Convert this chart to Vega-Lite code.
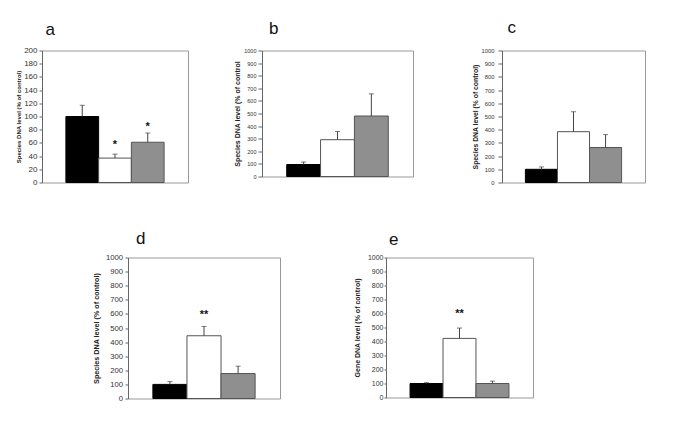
{
  "$schema": "https://vega.github.io/schema/vega-lite/v6.json",
  "background": "white",
  "padding": {"left": 15, "top": 17.5, "right": 5, "bottom": 5},
  "config": {
    "view": {"stroke": "#999999"},
    "axis": {"grid": false, "labelOverlap": false, "tickCount": 30, "format": "d", "labelFont": "Liberation Sans", "titleFont": "Liberation Sans", "domainColor": "#666666", "tickColor": "#666666", "labelColor": "#333333", "titleColor": "#222222", "titleFontWeight": "bold"},
    "title": {"font": "Liberation Sans", "fontWeight": "normal", "fontSize": 17, "anchor": "start", "color": "#111111", "frame": "group"}
  },
  "data": {"values": [
    {"panel": "a", "group": "control", "value": 100, "upper": 117, "star": null, "starY": null},
    {"panel": "a", "group": "treat1", "value": 37, "upper": 43, "star": "*", "starY": 62},
    {"panel": "a", "group": "treat2", "value": 61, "upper": 75, "star": "*", "starY": 88},
    {"panel": "b", "group": "control", "value": 95, "upper": 115, "star": null, "starY": null},
    {"panel": "b", "group": "treat1", "value": 292, "upper": 357, "star": null, "starY": null},
    {"panel": "b", "group": "treat2", "value": 480, "upper": 656, "star": null, "starY": null},
    {"panel": "c", "group": "control", "value": 100, "upper": 118, "star": null, "starY": null},
    {"panel": "c", "group": "treat1", "value": 385, "upper": 536, "star": null, "starY": null},
    {"panel": "c", "group": "treat2", "value": 265, "upper": 363, "star": null, "starY": null},
    {"panel": "d", "group": "control", "value": 100, "upper": 120, "star": null, "starY": null},
    {"panel": "d", "group": "treat1", "value": 445, "upper": 511, "star": "**", "starY": 614},
    {"panel": "d", "group": "treat2", "value": 177, "upper": 229, "star": null, "starY": null},
    {"panel": "e", "group": "control", "value": 100, "upper": 106, "star": null, "starY": null},
    {"panel": "e", "group": "treat1", "value": 422, "upper": 496, "star": "**", "starY": 616},
    {"panel": "e", "group": "treat2", "value": 100, "upper": 117, "star": null, "starY": null}
  ]},
  "spacing": 41,
  "vconcat": [
    {
      "spacing": 57,
      "hconcat": [
        {
          "spacing": 44,
          "hconcat": [
            {
              "width": 146, "height": 132,
              "title": {"text": "a", "dx": 3.5, "offset": 8},
              "transform": [{"filter": "datum.panel == 'a'"}],
              "encoding": {"x": {"field": "group", "type": "nominal", "sort": null, "scale": {"paddingInner": 0, "paddingOuter": 0.73}, "axis": null}},
              "layer": [
                {"mark": {"type": "bar", "strokeWidth": 1},
                 "encoding": {
                   "y": {"field": "value", "type": "quantitative", "scale": {"domain": [0, 200], "nice": false},
                         "axis": {"title": "Species DNA level (% of control)", "values": [0,20,40,60,80,100,120,140,160,180,200], "labelFontSize": 8, "titleFontSize": 6, "tickSize": 3, "labelPadding": 2, "titlePadding": 2}},
                   "fill": {"field": "group", "type": "nominal", "scale": {"domain": ["control","treat1","treat2"], "range": ["#000000","#ffffff","#8f8f8f"]}, "legend": null},
                   "stroke": {"field": "group", "type": "nominal", "scale": {"domain": ["control","treat1","treat2"], "range": ["#000000","#555555","#555555"]}, "legend": null}
                 }},
                {"mark": {"type": "rule", "color": "#444444"}, "encoding": {"y": {"field": "value", "type": "quantitative"}, "y2": {"field": "upper"}}},
                {"mark": {"type": "tick", "color": "#444444", "size": 5, "thickness": 1}, "encoding": {"y": {"field": "upper", "type": "quantitative"}}},
                {"transform": [{"filter": "datum.star != null"}], "mark": {"type": "text", "font": "Liberation Sans", "fontSize": 11, "fontWeight": "bold", "baseline": "alphabetic", "dy": 6, "color": "#111111"}, "encoding": {"y": {"field": "starY", "type": "quantitative"}, "text": {"field": "star"}}}
              ]
            },
            {
              "width": 151, "height": 126,
              "title": {"text": "b", "dx": 7, "offset": 10.5},
              "transform": [{"filter": "datum.panel == 'b'"}],
              "encoding": {"x": {"field": "group", "type": "nominal", "sort": null, "scale": {"paddingInner": 0, "paddingOuter": 0.73}, "axis": null}},
              "layer": [
                {"mark": {"type": "bar", "strokeWidth": 1},
                 "encoding": {
                   "y": {"field": "value", "type": "quantitative", "scale": {"domain": [0, 1000], "nice": false},
                         "axis": {"title": "Species DNA level (% of control", "values": [0,100,200,300,400,500,600,700,800,900,1000], "labelFontSize": 5.5, "titleFontSize": 7, "tickSize": 4, "labelPadding": 2, "titlePadding": 3}},
                   "fill": {"field": "group", "type": "nominal", "scale": {"domain": ["control","treat1","treat2"], "range": ["#000000","#ffffff","#8f8f8f"]}, "legend": null},
                   "stroke": {"field": "group", "type": "nominal", "scale": {"domain": ["control","treat1","treat2"], "range": ["#000000","#555555","#555555"]}, "legend": null}
                 }},
                {"mark": {"type": "rule", "color": "#444444"}, "encoding": {"y": {"field": "value", "type": "quantitative"}, "y2": {"field": "upper"}}},
                {"mark": {"type": "tick", "color": "#444444", "size": 5, "thickness": 1}, "encoding": {"y": {"field": "upper", "type": "quantitative"}}}
              ]
            }
          ]
        },
        {
          "width": 143, "height": 132,
          "title": {"text": "c", "dx": 5.5, "offset": 11},
          "transform": [{"filter": "datum.panel == 'c'"}],
          "encoding": {"x": {"field": "group", "type": "nominal", "sort": null, "scale": {"paddingInner": 0, "paddingOuter": 0.73}, "axis": null}},
          "layer": [
            {"mark": {"type": "bar", "strokeWidth": 1},
             "encoding": {
               "y": {"field": "value", "type": "quantitative", "scale": {"domain": [0, 1000], "nice": false},
                     "axis": {"title": "Species DNA level (% of control)", "values": [0,100,200,300,400,500,600,700,800,900,1000], "labelFontSize": 5.8, "titleFontSize": 6.8, "tickSize": 4, "labelPadding": 4, "titlePadding": 3}},
               "fill": {"field": "group", "type": "nominal", "scale": {"domain": ["control","treat1","treat2"], "range": ["#000000","#ffffff","#8f8f8f"]}, "legend": null},
               "stroke": {"field": "group", "type": "nominal", "scale": {"domain": ["control","treat1","treat2"], "range": ["#000000","#555555","#555555"]}, "legend": null}
             }},
            {"mark": {"type": "rule", "color": "#444444"}, "encoding": {"y": {"field": "value", "type": "quantitative"}, "y2": {"field": "upper"}}},
            {"mark": {"type": "tick", "color": "#444444", "size": 5, "thickness": 1}, "encoding": {"y": {"field": "upper", "type": "quantitative"}}}
          ]
        }
      ]
    },
    {
      "spacing": 0,
      "hconcat": [
        {"width": 49, "height": 10, "data": {"values": []}, "mark": {"type": "point", "opacity": 0}, "encoding": {}, "view": {"stroke": null}},
        {
          "spacing": 71,
          "hconcat": [
            {
              "width": 152, "height": 141,
              "title": {"text": "d", "dx": 8, "offset": 6},
              "transform": [{"filter": "datum.panel == 'd'"}],
              "encoding": {"x": {"field": "group", "type": "nominal", "sort": null, "scale": {"paddingInner": 0, "paddingOuter": 0.73}, "axis": null}},
              "layer": [
                {"mark": {"type": "bar", "strokeWidth": 1},
                 "encoding": {
                   "y": {"field": "value", "type": "quantitative", "scale": {"domain": [0, 1000], "nice": false},
                         "axis": {"title": "Species DNA level (% of control)", "values": [0,100,200,300,400,500,600,700,800,900,1000], "labelFontSize": 7.7, "titleFontSize": 7.2, "tickSize": 3, "labelPadding": 2.5, "titlePadding": 5}},
                   "fill": {"field": "group", "type": "nominal", "scale": {"domain": ["control","treat1","treat2"], "range": ["#000000","#ffffff","#8f8f8f"]}, "legend": null},
                   "stroke": {"field": "group", "type": "nominal", "scale": {"domain": ["control","treat1","treat2"], "range": ["#000000","#555555","#555555"]}, "legend": null}
                 }},
                {"mark": {"type": "rule", "color": "#444444"}, "encoding": {"y": {"field": "value", "type": "quantitative"}, "y2": {"field": "upper"}}},
                {"mark": {"type": "tick", "color": "#444444", "size": 5, "thickness": 1}, "encoding": {"y": {"field": "upper", "type": "quantitative"}}},
                {"transform": [{"filter": "datum.star != null"}], "mark": {"type": "text", "font": "Liberation Sans", "fontSize": 11, "fontWeight": "bold", "baseline": "alphabetic", "dy": 6, "color": "#111111"}, "encoding": {"y": {"field": "starY", "type": "quantitative"}, "text": {"field": "star"}}}
              ]
            },
            {
              "width": 147, "height": 140,
              "title": {"text": "e", "dx": 3, "offset": 5},
              "transform": [{"filter": "datum.panel == 'e'"}],
              "encoding": {"x": {"field": "group", "type": "nominal", "sort": null, "scale": {"paddingInner": 0, "paddingOuter": 0.73}, "axis": null}},
              "layer": [
                {"mark": {"type": "bar", "strokeWidth": 1},
                 "encoding": {
                   "y": {"field": "value", "type": "quantitative", "scale": {"domain": [0, 1000], "nice": false},
                         "axis": {"title": "Gene DNA level (% of control)", "values": [0,100,200,300,400,500,600,700,800,900,1000], "labelFontSize": 7, "titleFontSize": 7, "tickSize": 2, "labelPadding": 1, "titlePadding": 7}},
                   "fill": {"field": "group", "type": "nominal", "scale": {"domain": ["control","treat1","treat2"], "range": ["#000000","#ffffff","#8f8f8f"]}, "legend": null},
                   "stroke": {"field": "group", "type": "nominal", "scale": {"domain": ["control","treat1","treat2"], "range": ["#000000","#555555","#555555"]}, "legend": null}
                 }},
                {"mark": {"type": "rule", "color": "#444444"}, "encoding": {"y": {"field": "value", "type": "quantitative"}, "y2": {"field": "upper"}}},
                {"mark": {"type": "tick", "color": "#444444", "size": 5, "thickness": 1}, "encoding": {"y": {"field": "upper", "type": "quantitative"}}},
                {"transform": [{"filter": "datum.star != null"}], "mark": {"type": "text", "font": "Liberation Sans", "fontSize": 11, "fontWeight": "bold", "baseline": "alphabetic", "dy": 6, "color": "#111111"}, "encoding": {"y": {"field": "starY", "type": "quantitative"}, "text": {"field": "star"}}}
              ]
            }
          ]
        }
      ]
    }
  ]
}
